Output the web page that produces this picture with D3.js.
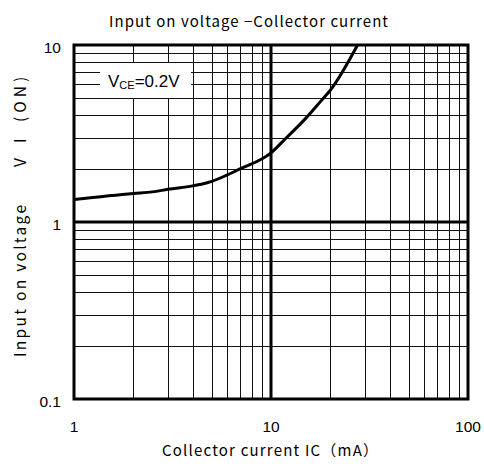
<!DOCTYPE html>
<html>
<head>
<meta charset="utf-8">
<script src="https://cdn.jsdelivr.net/npm/d3@7"></script>
<style>
  body { margin: 0; background: #fff; }
  .jp { font-family: "Noto Sans CJK JP", "Noto Sans", sans-serif; }
  .num { font-family: "Liberation Sans", Arial, sans-serif; }
</style>
</head>
<body>
<div id="chart"></div>
<script>
// curve
const icValues = [1, 2, 2.5, 3, 4, 4.7, 7, 10, 12, 15, 18, 20, 27.5]
const viValues = [1.34, 1.45, 1.48, 1.53, 1.6, 1.66, 2.0, 2.46, 3.0, 3.85, 4.85, 5.55, 10]
const xMajor = [1, 10, 100]
const yMajor = [0.1, 1, 10]
const xTickLabels = ["1", "10", "100"]
const yTickLabels = ["0.1", "1", "10"]

const WIDTH = 484, HEIGHT = 466
const PLOT = { LEFT: 74, RIGHT: 468, TOP: 45, BOTTOM: 399 }

const svg = d3.select("#chart").append("svg")
  .attr("width", WIDTH)
  .attr("height", HEIGHT)

const x = d3.scaleLog().domain([1, 100]).range([PLOT.LEFT, PLOT.RIGHT])
const y = d3.scaleLog().domain([0.1, 10]).range([PLOT.BOTTOM, PLOT.TOP])

const plotW = PLOT.RIGHT - PLOT.LEFT
const plotH = PLOT.BOTTOM - PLOT.TOP

// minor grid (every 1..9 of each decade)
svg.append("g")
  .attr("transform", `translate(0, ${PLOT.BOTTOM})`)
  .call(d3.axisBottom(x).tickValues(x.ticks()).tickSize(-plotH).tickFormat(""))
svg.append("g")
  .attr("transform", `translate(${PLOT.LEFT}, 0)`)
  .call(d3.axisLeft(y).tickValues(y.ticks()).tickSize(-plotW).tickFormat(""))

svg.selectAll(".domain").remove()
svg.selectAll(".tick line")
  .attr("stroke", "#111")
  .attr("stroke-width", 1)
  .attr("shape-rendering", "crispEdges")

// label box covers the grid behind it
svg.append("rect")
  .attr("x", 100).attr("y", 63)
  .attr("width", 91).attr("height", 35)
  .attr("fill", "#fff")

// decade lines
svg.selectAll(".xdec").data([10]).enter().append("line")
  .attr("x1", d => x(d)).attr("x2", d => x(d))
  .attr("y1", PLOT.TOP).attr("y2", PLOT.BOTTOM)
  .attr("stroke", "#000").attr("stroke-width", 3)
svg.selectAll(".ydec").data([1]).enter().append("line")
  .attr("x1", PLOT.LEFT).attr("x2", PLOT.RIGHT)
  .attr("y1", d => y(d)).attr("y2", d => y(d))
  .attr("stroke", "#000").attr("stroke-width", 3)

// curve
const pts = icValues.map((v, i) => [x(v), y(viValues[i])])
svg.append("path")
  .datum(pts)
  .attr("fill", "none")
  .attr("stroke", "#000")
  .attr("stroke-width", 3)
  .attr("stroke-linejoin", "round")
  .attr("d", d3.line().curve(d3.curveMonotoneX))

// frame
svg.append("rect")
  .attr("x", PLOT.LEFT).attr("y", PLOT.TOP)
  .attr("width", plotW).attr("height", plotH)
  .attr("fill", "none")
  .attr("stroke", "#000")
  .attr("stroke-width", 3)

// tick labels
svg.selectAll(".xlab").data(xMajor).enter().append("text")
  .attr("class", "num")
  .attr("x", d => x(d))
  .attr("y", 432)
  .attr("text-anchor", "middle")
  .attr("font-size", 15.5)
  .text((d, i) => xTickLabels[i])

svg.selectAll(".ylab").data(yMajor).enter().append("text")
  .attr("class", "num")
  .attr("x", 61)
  .attr("y", d => y(d) + 7.5)
  .attr("text-anchor", "end")
  .attr("font-size", 15.5)
  .text((d, i) => yTickLabels[i])

// annotation
const note = svg.append("text")
  .attr("class", "num")
  .attr("x", 108)
  .attr("y", 87)
  .attr("font-size", 17)
note.append("tspan").text("V")
note.append("tspan").attr("font-size", 11).attr("dy", 2).text("CE")
note.append("tspan").attr("dy", -2).text("=0.2V")

// title and axis titles
svg.append("text")
  .attr("class", "jp")
  .attr("x", 109)
  .attr("y", 27)
  .attr("font-size", 15)
  .attr("textLength", 279)
  .attr("lengthAdjust", "spacing")
  .text("Input on voltage −Collector current")

svg.append("text")
  .attr("class", "jp")
  .attr("x", 162)
  .attr("y", 456)
  .attr("font-size", 15)
  .attr("textLength", 216)
  .attr("lengthAdjust", "spacing")
  .text("Collector current  IC（mA）")

const yTitle = svg.append("g")
  .attr("transform", "translate(26, 0) rotate(-90)")
  .attr("class", "jp")
  .attr("font-size", 15.5)
yTitle.append("text")
  .attr("x", -357)
  .attr("textLength", 152)
  .attr("lengthAdjust", "spacing")
  .text("Input on voltage")
yTitle.append("text").attr("x", -167).text("V")
yTitle.append("text").attr("x", -143).text("I")
yTitle.append("text").attr("x", -122).attr("letter-spacing", 4).text("(ON)")
</script>
</body>
</html>
